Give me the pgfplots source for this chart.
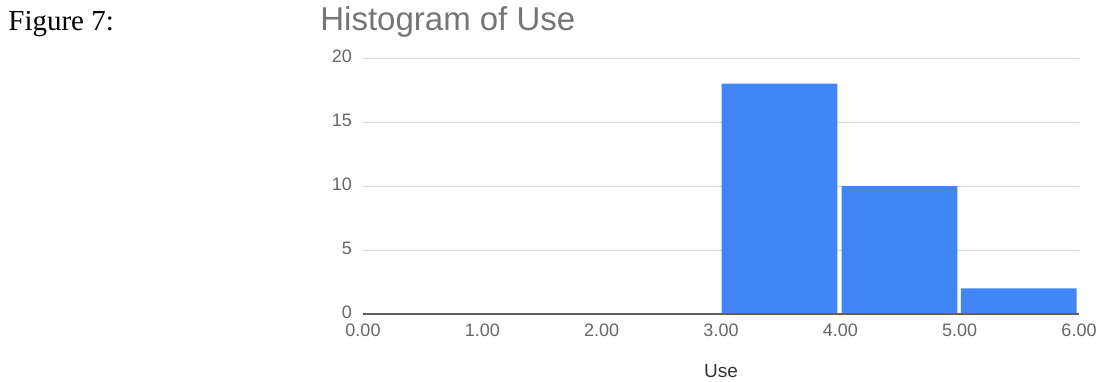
\documentclass[border=0pt]{standalone}
\usepackage{fontspec}
\setmainfont{Liberation Sans}
\newfontfamily\figfont{Liberation Serif}
\usepackage{pgfplots}
\pgfplotsset{compat=1.18}
\definecolor{barblue}{HTML}{4285F4}
\definecolor{ticktxt}{HTML}{666666}
\definecolor{titlegray}{HTML}{757575}
\definecolor{gridgray}{HTML}{D9D9D9}
\definecolor{labtxt}{HTML}{333333}
\definecolor{zeroline}{HTML}{5F5F5F}
\begin{document}
\begin{tikzpicture}[x=1pt,y=1pt]
\useasboundingbox (0,0) rectangle (551,-190.5);
\node[anchor=base west,font=\figfont\fontsize{14.5}{16}\selectfont,inner sep=0] at (4,-15) {Figure 7:};
\node[anchor=base west,font=\fontsize{16.5}{18}\selectfont,text=titlegray,inner sep=0] at (160,-15) {Histogram of Use};
\begin{axis}[
  at={(181.5pt,-157pt)}, anchor=south west,
  scale only axis, width=358pt, height=128pt,
  xmin=0, xmax=6, ymin=0, ymax=20,
  xtick={0,1,...,6}, ytick={0,5,...,20},
  ymajorgrids, grid style={draw=gridgray, line width=0.5pt},
  axis line style={draw=none}, major tick style={draw=none},
  ticklabel style={font=\fontsize{9}{11}\selectfont, text=ticktxt},
  /pgf/number format/assume math mode=true,
  xticklabel style={yshift=-1.5pt, /pgf/number format/.cd, fixed, fixed zerofill, precision=2, assume math mode=true},
  yticklabel style={xshift=-2pt, yshift=1pt},
  xlabel={Use},
  xlabel style={at={(axis description cs:0.5,0)}, anchor=center, yshift=-28.5pt, font=\fontsize{9.5}{11}\selectfont, text=labtxt},
]
\addplot[ybar, bar width=0.97, bar shift=0pt, fill=barblue, draw=none] coordinates {(3.49,18) (4.495,10) (5.495,2)};
\draw[zeroline, line width=0.75pt] (axis cs:0,0) -- (axis cs:6,0);
\end{axis}
\end{tikzpicture}
\end{document}
